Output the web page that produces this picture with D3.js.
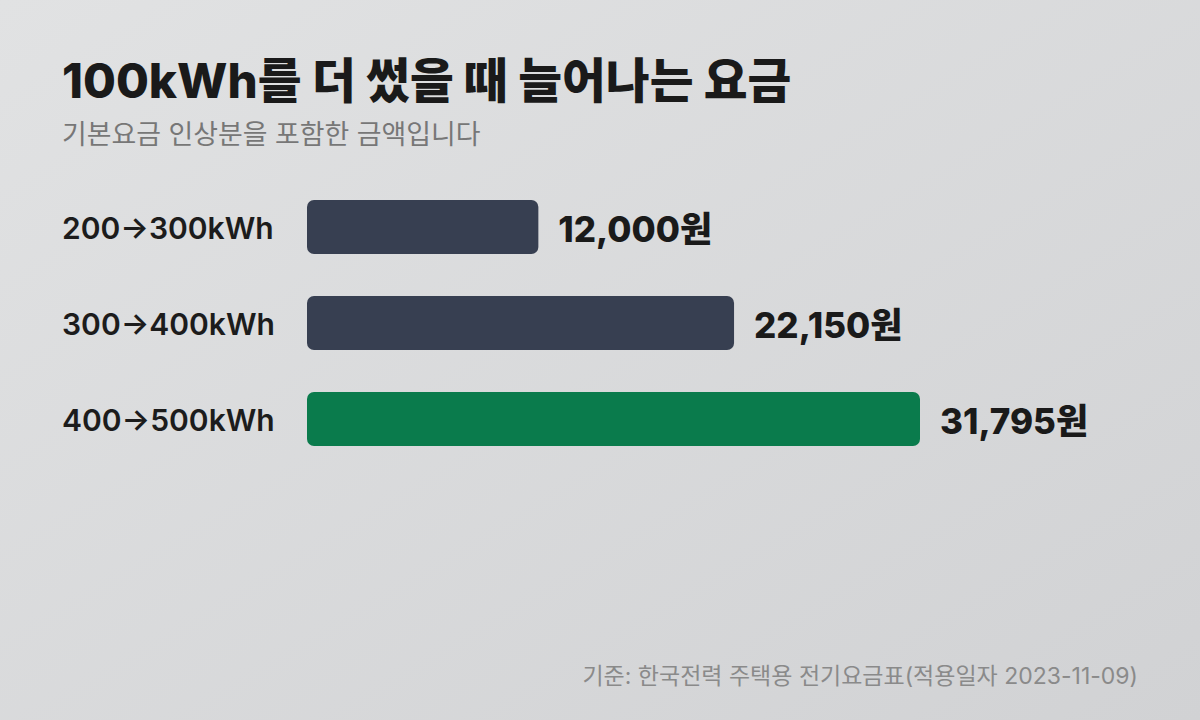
<!DOCTYPE html>
<html><head><meta charset="utf-8">
<script src="https://cdn.jsdelivr.net/npm/d3@7"></script>
<style>
html,body{margin:0;padding:0;width:1200px;height:720px;overflow:hidden;}
svg{display:block;font-family:Inter,"Noto Sans CJK KR",sans-serif;}
</style></head>
<body>
<svg id="c" width="1200" height="720"></svg>
<script>
const categories = ["200→300kWh", "300→400kWh", "400→500kWh"];
const values = [12000, 22150, 31795];
const barColors = ["#373f51", "#373f51", "#0a7b4c"];
const titleText = "100kWh를 더 썼을 때 늘어나는 요금";
const subtitleText = "기본요금 인상분을 포함한 금액입니다";
const sourceText = "기준: 한국전력 주택용 전기요금표(적용일자 2023-11-09)";
const unit = "원";

const svg = d3.select("#c");
const defs = svg.append("defs");
const g = defs.append("linearGradient").attr("id","bg").attr("x1","0").attr("y1","0").attr("x2","1").attr("y2","1");
g.append("stop").attr("offset","0").attr("stop-color","#e1e2e3");
g.append("stop").attr("offset","1").attr("stop-color","#d1d2d4");
svg.append("rect").attr("width",1200).attr("height",720).attr("fill","url(#bg)");

svg.append("text").attr("x",62).attr("y",98).attr("font-size",47.6).attr("font-weight",800)
  .attr("fill","#1a1a1a").text(titleText);
svg.append("text").attr("x",62).attr("y",144).attr("font-size",26.9).attr("font-weight",400)
  .attr("fill","#777").text(subtitleText);

const x = d3.scaleLinear().domain([0, d3.max(values)]).range([307, 920]);
const y = d3.scaleBand().domain(categories).range([200, 446]).paddingInner(42/96).paddingOuter(0);

const rows = svg.append("g").selectAll("g").data(categories).join("g");
rows.append("rect")
  .attr("x", x(0)).attr("y", d => y(d))
  .attr("width", (d,i) => x(values[i]) - x(0)).attr("height", y.bandwidth())
  .attr("rx", 7).attr("fill", (d,i) => barColors[i]);
rows.append("text")
  .attr("x", 62).attr("y", d => y(d) + y.bandwidth()/2 + 12)
  .attr("font-size", 30).attr("font-weight", 600).attr("fill", "#1c1c1c")
  .text(d => d);
rows.append("text")
  .attr("x", (d,i) => x(values[i]) + 20).attr("y", d => y(d) + y.bandwidth()/2 + 15)
  .attr("font-size", 35).attr("font-weight", 800).attr("fill", "#1a1a1a")
  .text((d,i) => d3.format(",")(values[i]) + unit);

svg.append("text").attr("x",1138).attr("y",684).attr("text-anchor","end")
  .attr("font-size",23).attr("font-weight",400).attr("fill","#8a8a8a").text(sourceText);
</script>
</body></html>
